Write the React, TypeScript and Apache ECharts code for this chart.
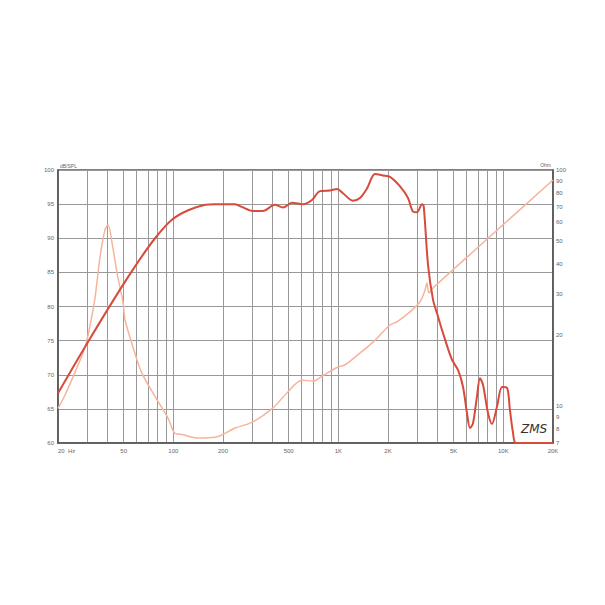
import React, { useEffect, useRef } from 'react';
import * as echarts from 'echarts';

// SPL response (Hz, dB)
const splFreq = [20, 29.2, 44.3, 61, 77.5, 98, 123, 156, 179, 237, 260, 304, 349, 413, 462, 523, 611, 692, 774, 889, 982, 1067, 1227, 1352, 1492, 1668, 1866, 2056, 2366, 2644, 2836, 2999, 3216, 3292, 3496, 3748, 3964, 4310, 4882, 5312, 5700, 6020, 6280, 6550, 6920, 7220, 7534, 8074, 8530, 9150, 9816, 10520, 10970, 11450, 11940, 20000];
const splDb = [67.3, 74.1, 81.3, 86.5, 90.0, 92.7, 94.1, 94.9, 95.0, 95.0, 94.6, 94.0, 94.0, 94.9, 94.5, 95.2, 95.0, 95.6, 96.9, 97.0, 97.2, 96.6, 95.5, 95.9, 97.3, 99.4, 99.2, 99.0, 97.6, 95.9, 93.9, 93.8, 95.0, 94.7, 86.1, 81.0, 79.0, 76.1, 72.2, 70.7, 68.2, 64.4, 62.2, 62.9, 66.8, 69.5, 68.5, 64.4, 62.8, 65.3, 68.2, 68.1, 64.8, 61.5, 60.0, 60.0];

// Impedance (Hz, Ohm)
const impFreq = [20, 22.1, 25.4, 29.2, 31.3, 33.5, 35.9, 38.5, 40.2, 43, 45.8, 49.5, 51, 56, 64, 77.5, 93, 102, 113, 141, 179, 237, 304, 402, 488, 602, 702, 807, 982, 1098, 1352, 1622, 2056, 2268, 2718, 3126, 3350, 3444, 3540, 3748, 7220, 20000];
const impOhm = [9.8, 11.2, 14.0, 17.8, 22.1, 28.7, 42.5, 55.7, 58.5, 46.8, 36, 27.7, 23.2, 18.5, 14, 11, 8.9, 7.7, 7.6, 7.35, 7.4, 8.1, 8.6, 9.85, 11.4, 12.9, 12.8, 13.5, 14.6, 15, 16.8, 18.7, 22.1, 22.8, 25.1, 27.7, 31, 33.3, 30.2, 31.7, 47.9, 90.7];

const xGridFreqs = [20, 30, 40, 50, 60, 70, 80, 90, 100, 200, 300, 400, 500, 600, 700, 800, 900, 1000, 2000, 3000, 4000, 5000, 6000, 7000, 8000, 9000, 10000, 20000];
const xLabelFreqs = [20, 50, 100, 200, 500, 1000, 2000, 5000, 10000, 20000];
const ohmTicks = [7, 8, 9, 10, 20, 30, 40, 50, 60, 70, 80, 90, 100];

const lg = (v: number) => Math.log10(v);

function freqLabel(v: number): string {
  const f = Math.round(Math.pow(10, v));
  if (f === 20) return '20  Hz';
  if (f >= 1000) return f / 1000 + 'K';
  return String(f);
}

export default function App() {
  const ref = useRef<HTMLDivElement>(null);
  useEffect(() => {
    if (!ref.current) return;
    const chart = echarts.init(ref.current, null, { renderer: 'svg' });
    const font = 'Liberation Sans, Arial, sans-serif';
    const labelStyle = { fontFamily: font, fontSize: 6, color: '#666' };
    chart.setOption({
      animation: false,
      backgroundColor: '#ffffff',
      grid: { left: 58, right: 52, top: 170, bottom: 162, show: true, borderColor: '#555', borderWidth: 1.5, containLabel: false },
      xAxis: {
        type: 'value',
        min: lg(20),
        max: lg(20000),
        axisLine: { show: true, lineStyle: { color: '#555', width: 1.5 } },
        axisTick: { show: false, customValues: xGridFreqs.map(lg) },
        splitLine: { show: true, lineStyle: { color: '#999', width: 1 } },
        axisLabel: {
          ...labelStyle,
          margin: 5,
          customValues: xLabelFreqs.map(lg),
          formatter: (v: number) => freqLabel(v),
          alignMinLabel: 'left',
          showMinLabel: true,
          showMaxLabel: true,
        },
      },
      yAxis: [
        {
          type: 'value',
          min: 60,
          max: 100,
          interval: 5,
          name: 'dB/SPL',
          nameLocation: 'end',
          nameGap: 2,
          nameTextStyle: { fontFamily: font, fontSize: 5, color: '#666', align: 'left', padding: [0, 0, 0, 2] },
          axisLine: { show: true, lineStyle: { color: '#555', width: 1.5 } },
          axisTick: { show: false },
          splitLine: { show: true, lineStyle: { color: '#999', width: 1 } },
          axisLabel: { ...labelStyle, margin: 4 },
        },
        {
          type: 'value',
          min: lg(7),
          max: 2,
          position: 'right',
          name: 'Ohm',
          nameLocation: 'end',
          nameGap: 2,
          nameTextStyle: { fontFamily: font, fontSize: 5, color: '#666', align: 'right', padding: [0, 2, 0, 0] },
          axisLine: { show: true, lineStyle: { color: '#555', width: 1.5 } },
          axisTick: { show: false, customValues: ohmTicks.map(lg) },
          splitLine: { show: false },
          axisLabel: {
            ...labelStyle,
            margin: 3,
            customValues: ohmTicks.map(lg),
            formatter: (v: number) => String(Math.round(Math.pow(10, v))),
            showMinLabel: true,
            showMaxLabel: true,
          },
        },
      ],
      series: [
        {
          type: 'line',
          name: 'Impedance',
          yAxisIndex: 1,
          data: impFreq.map((f, i) => [lg(f), lg(impOhm[i])]),
          showSymbol: false,
          smooth: 0.3,
          lineStyle: { color: '#f6b49b', width: 1.5 },
          z: 2,
        },
        {
          type: 'line',
          name: 'SPL',
          yAxisIndex: 0,
          data: splFreq.map((f, i) => [lg(f), splDb[i]]),
          showSymbol: false,
          smooth: 0.3,
          lineStyle: { color: '#d84a3c', width: 2 },
          z: 3,
        },
      ],
      graphic: [
        {
          type: 'text',
          left: 521,
          top: 423,
          style: { text: 'ZMS', font: 'italic 12px "DejaVu Sans", sans-serif', fill: '#333' },
        },
      ],
    });
    return () => chart.dispose();
  }, []);
  return <div ref={ref} style={{ position: 'fixed', left: 0, top: 0, width: 605, height: 605, background: '#fff' }} />;
}
